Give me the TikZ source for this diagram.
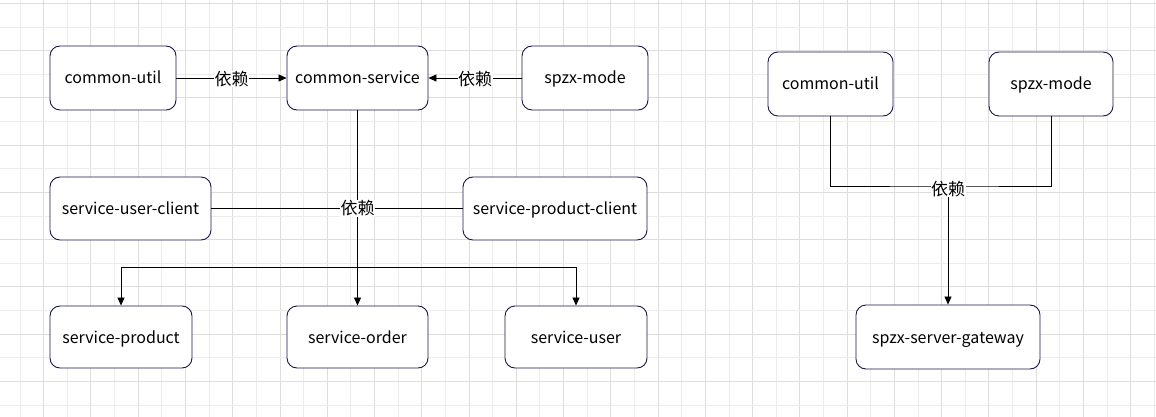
\documentclass[tikz,border=0pt]{standalone}
\usepackage{fontspec}
\setmainfont{Noto Sans CJK SC}
\usetikzlibrary{arrows.meta}
\usetikzlibrary{positioning}
\definecolor{boxline}{RGB}{24,24,72}
\definecolor{gridlight}{RGB}{236,236,236}
\definecolor{griddark}{RGB}{221,221,221}

\begin{document}
\begin{tikzpicture}[x=1pt,y=-1pt]
			\tikzset{module/.style = {shape=rectangle,draw=boxline,rounded corners=10pt,
					fill=white,line width=0.9pt,inner sep = 0pt,
					text height=14pt, text depth=2pt,
					font=\fontsize{16}{19}\selectfont}}
			\tikzset{dep/.style = {-{Triangle[length=8pt,width=7pt]}, line width=0.8pt}}
			\tikzset{link/.style = {line width=0.8pt}}
			\tikzset{deplabel/.style = {fill=white,inner sep=0.5pt,
					font=\fontsize{17}{20}\selectfont}}
			
			% background grid
			\useasboundingbox (0,0) rectangle (1156,417);
			\fill[white] (0,0) rectangle (1156,417);
			\foreach \i in {0,...,48}{
				\pgfmathsetmacro{\gx}{20+\i*23.63}
				\ifodd\i \def\gc{griddark}\else \def\gc{gridlight}\fi
				\draw[\gc, line width=0.8pt] (\gx,0) -- (\gx,417);
			}
			\foreach \j in {0,...,17}{
				\pgfmathsetmacro{\gy}{3.3+\j*23.63}
				\ifodd\j \def\gc{gridlight}\else \def\gc{griddark}\fi
				\draw[\gc, line width=0.8pt] (0,\gy) -- (1156,\gy);
			}
			
			% vertices
			\node[module, minimum width=126pt, minimum height=64pt] (cutil) at (113,78) {common-util};
			\node[module, minimum width=141pt, minimum height=64pt] (cservice) at (357.5,78) {common-service};
			\node[module, minimum width=126pt, minimum height=64pt] (smode) at (585,78) {spzx-mode};
			
			\node[module, minimum width=161pt, minimum height=63pt] (userclient) at (130.5,208.5) {service-user-client};
			\node[module, minimum width=184pt, minimum height=63pt] (productclient) at (555,208.5) {service-product-client};
			
			\node[module, minimum width=142pt, minimum height=62pt] (sproduct) at (121,337) {service-product};
			\node[module, minimum width=141pt, minimum height=62pt] (sorder) at (357.5,337) {service-order};
			\node[module, minimum width=142pt, minimum height=62pt] (suser) at (576,337) {service-user};
			
			\node[module, minimum width=125pt, minimum height=64pt] (cutilb) at (830.5,84) {common-util};
			\node[module, minimum width=124pt, minimum height=64pt] (smodeb) at (1051,84) {spzx-mode};
			\node[module, minimum width=184pt, minimum height=64pt] (gateway) at (948,337) {spzx-server-gateway};
			
			\coordinate (split) at (357.5,267);
			\coordinate (join) at (948,186);
			
			%edges
			
			\draw[dep] (cutil) to node[deplabel, yshift=-1pt] {依赖} (cservice);
			\draw[dep] (smode) to node[deplabel, yshift=-1pt] {依赖} (cservice);
			
			\draw[dep] (cservice) to (sorder);
			\draw[dep] (split) -| (sproduct);
			\draw[dep] (split) -| (suser);
			\draw[link] (userclient) to (productclient);
			\node[deplabel] (midlabel) at (cservice |- userclient) {依赖};
			
			\draw[link] (cutilb) |- (join) -| (smodeb);
			\draw[dep] (join) to (gateway);
			\node[deplabel, yshift=-3pt] (rightlabel) at (join) {依赖};
			
			\end{tikzpicture}
\end{document}
